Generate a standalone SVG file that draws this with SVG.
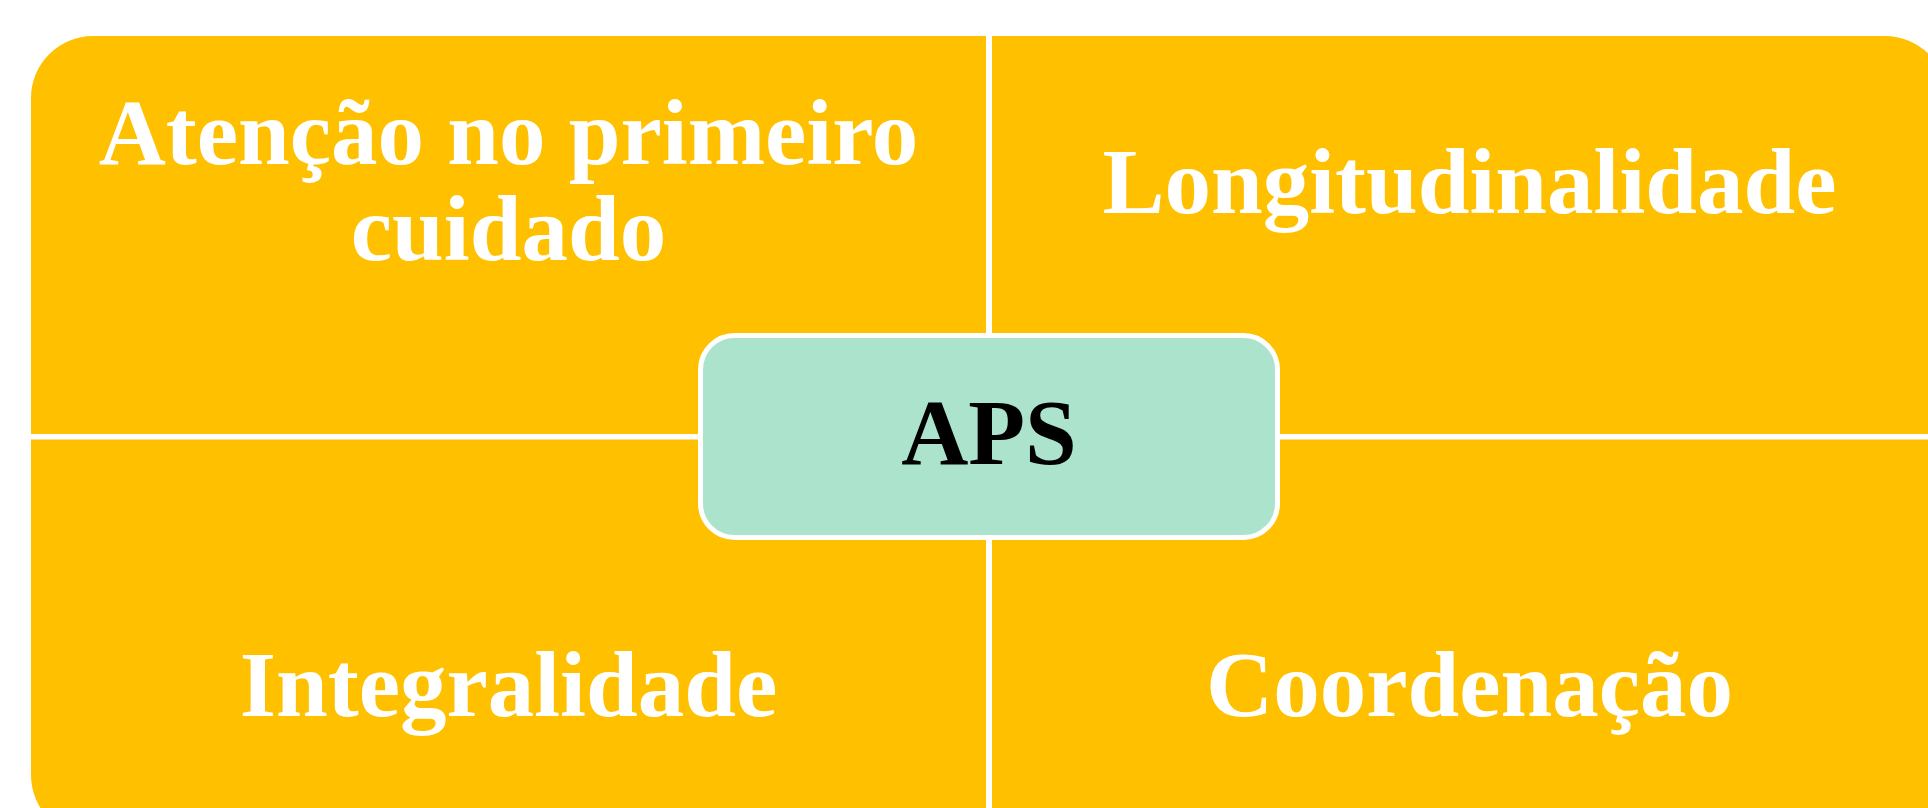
<svg xmlns="http://www.w3.org/2000/svg" width="1928" height="808" viewBox="0 0 1928 808">
<style>
.q{fill:#FFC000}
.t{font-family:"Liberation Serif","Times New Roman",serif;font-weight:bold;font-size:93px;text-anchor:middle}
.w{fill:#FFFFFF}
.k{fill:#000000}
</style>
<rect width="1928" height="808" fill="#FFFFFF"/>
<g id="quad-tl">
<path class="q" d="M31,98 A62,62 0 0 1 93,36 L986,36 L986,434 L31,434 Z"/>
<text class="t w" x="508.5" y="163.5">Atenção no primeiro</text>
<text class="t w" x="508.5" y="259.5">cuidado</text>
</g>
<g id="quad-tr">
<path class="q" d="M992,36 L1885,36 A62,62 0 0 1 1947,98 L1947,434 L992,434 Z"/>
<text class="t w" x="1469.5" y="212.7">Longitudinalidade</text>
</g>
<g id="quad-bl">
<path class="q" d="M31,439.5 L986,439.5 L986,837 L93,837 A62,62 0 0 1 31,775 Z"/>
<text class="t w" x="508.5" y="715.5">Integralidade</text>
</g>
<g id="quad-br">
<path class="q" d="M992,439.5 L1947,439.5 L1947,775 A62,62 0 0 1 1885,837 L992,837 Z"/>
<text class="t w" x="1469.5" y="715.5">Coordenação</text>
</g>
<g id="connectors"></g>
<g id="center-aps">
<rect x="700.5" y="335.5" width="577" height="202" rx="34" ry="34" fill="#ACE3CC" stroke="#FFFFFF" stroke-width="5"/>
<text class="t k" x="989" y="463.5">APS</text>
</g>
</svg>
